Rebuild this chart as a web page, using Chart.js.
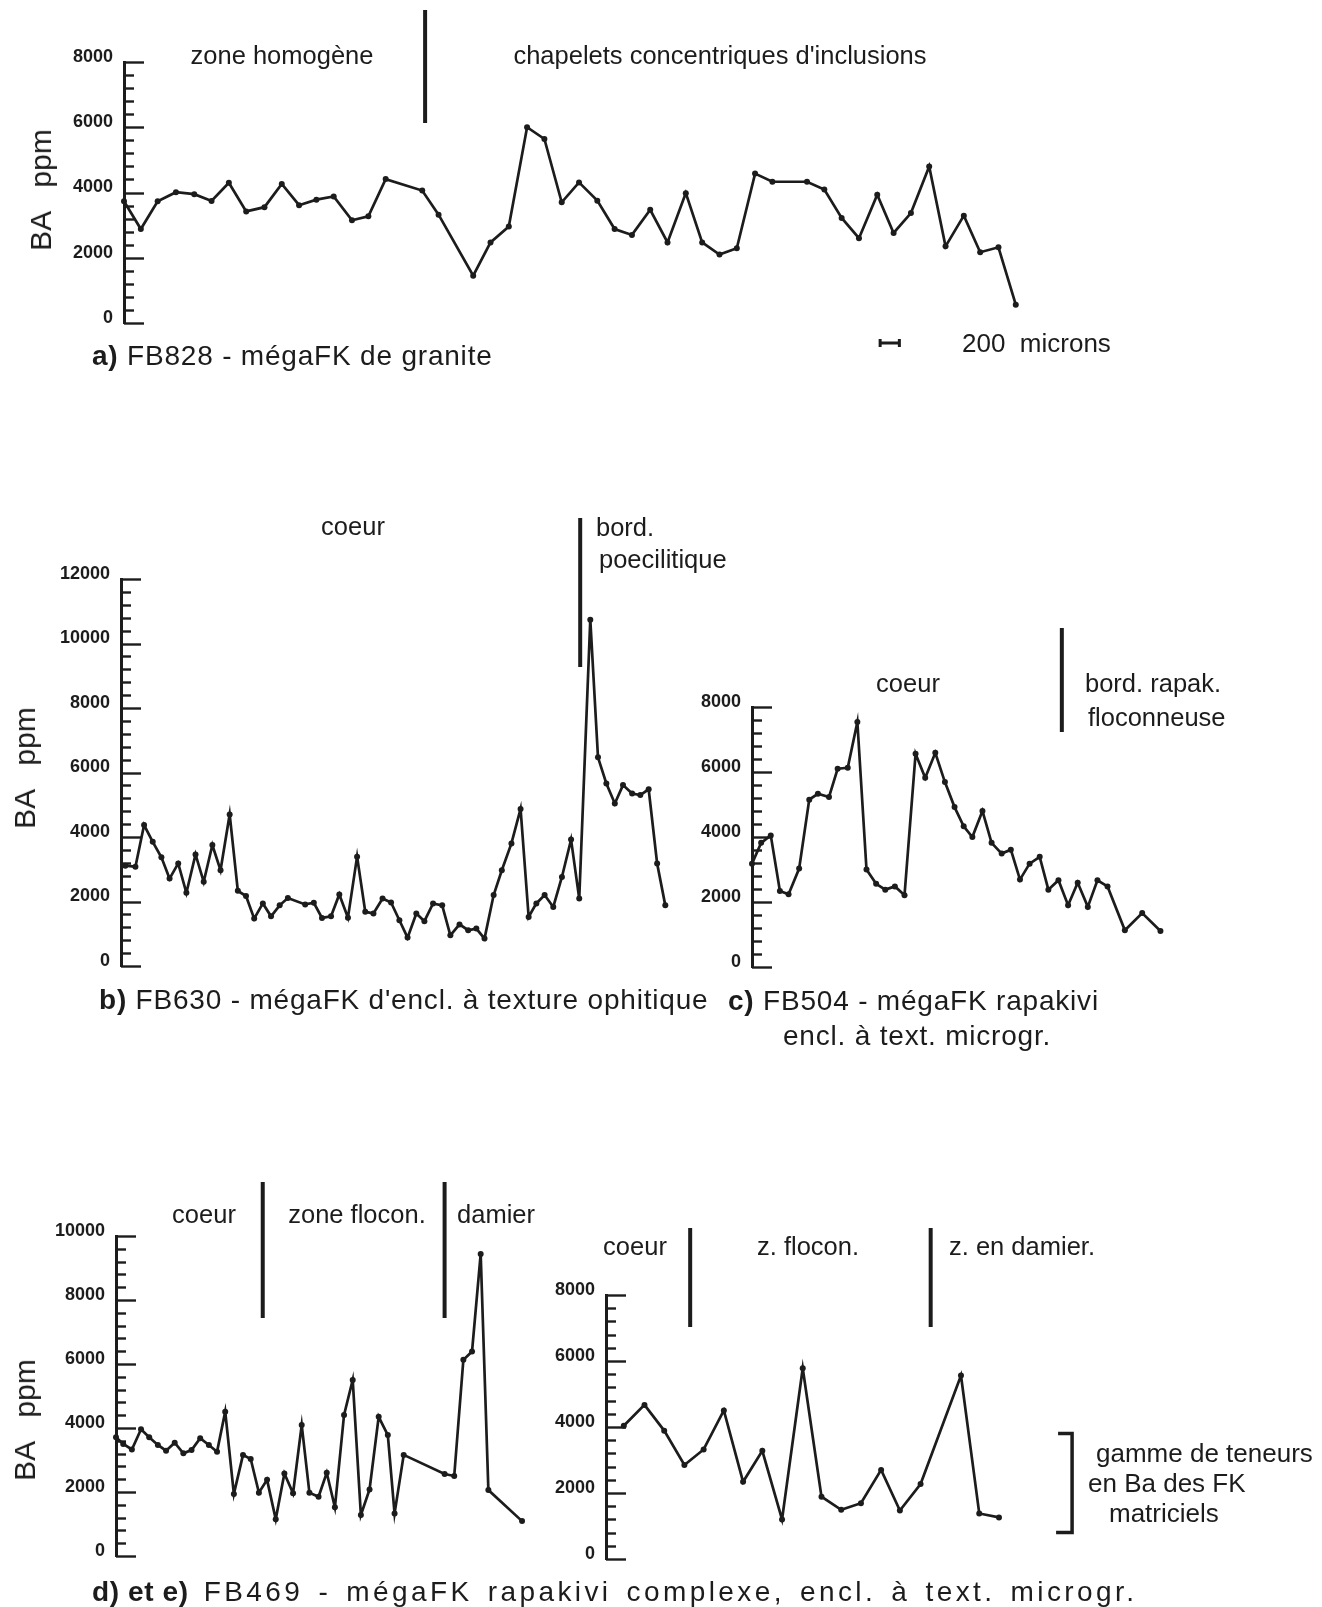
<!DOCTYPE html>
<html lang="fr">
<head>
<meta charset="utf-8">
<title>Profils de Ba dans les mégacristaux de FK</title>
<script src="https://cdn.jsdelivr.net/npm/chart.js@4.4.1/dist/chart.umd.min.js"></script>
<style>
  html, body { margin: 0; padding: 0; background: #fff; }
  #page { position: relative; width: 1322px; height: 1607px; overflow: hidden;
          font-family: "Liberation Sans", Arial, Helvetica, sans-serif; color: #1c1c1c; }
  #page canvas { position: absolute; left: 0; top: 0; }
  .t { position: absolute; white-space: pre; font-size: 25.5px; line-height: 1; transform: translateY(-50%); }
  .c { transform: translate(-50%, -50%); }
  .cap { font-size: 28px; letter-spacing: 0.8px; }
  .wide { letter-spacing: 3.4px; word-spacing: 4px; }
  .wide b { letter-spacing: 0.6px; word-spacing: 0; }
  .ylab { position: absolute; white-space: pre; font-size: 30px; line-height: 1;
          transform: translate(-50%, -50%) rotate(-90deg); }
</style>
</head>
<body>
<div id="page">
  <canvas id="chA" width="1322" height="1607"></canvas>
  <canvas id="chB" width="1322" height="1607"></canvas>
  <canvas id="chC" width="1322" height="1607"></canvas>
  <canvas id="chD" width="1322" height="1607"></canvas>
  <canvas id="chE" width="1322" height="1607"></canvas>

  <!-- a) -->
  <div class="ylab" style="left:41px; top:190px;">BA   ppm</div>
  <div class="t c" style="left:282px; top:56px;">zone homogène</div>
  <div class="t c" style="left:720px; top:56px;">chapelets concentriques d'inclusions</div>
  <div class="t" style="left:962px; top:343px; font-size:26px;">200  microns</div>
  <div class="t cap" style="left:92px; top:356px;"><b>a)</b> FB828 - mégaFK de granite</div>

  <!-- b) -->
  <div class="ylab" style="left:25px; top:768px;">BA   ppm</div>
  <div class="t c" style="left:353px; top:527px;">coeur</div>
  <div class="t" style="left:596px; top:528px;">bord.</div>
  <div class="t" style="left:599px; top:560px;">poecilitique</div>
  <div class="t cap" style="left:99px; top:1000px;"><b>b)</b> FB630 - mégaFK d'encl. à texture ophitique</div>

  <!-- c) -->
  <div class="t c" style="left:908px; top:684px;">coeur</div>
  <div class="t" style="left:1085px; top:684px;">bord. rapak.</div>
  <div class="t" style="left:1088px; top:718px;">floconneuse</div>
  <div class="t cap" style="left:728px; top:1001px;"><b>c)</b> FB504 - mégaFK rapakivi</div>
  <div class="t cap" style="left:783px; top:1036px;">encl. à text. microgr.</div>

  <!-- d) et e) -->
  <div class="ylab" style="left:25px; top:1420px;">BA   ppm</div>
  <div class="t c" style="left:204px; top:1215px;">coeur</div>
  <div class="t c" style="left:357px; top:1215px;">zone flocon.</div>
  <div class="t c" style="left:496px; top:1215px;">damier</div>
  <div class="t c" style="left:635px; top:1247px;">coeur</div>
  <div class="t c" style="left:808px; top:1247px;">z. flocon.</div>
  <div class="t c" style="left:1022px; top:1247px;">z. en damier.</div>
  <div class="t" style="left:1096px; top:1453px; font-size:26px;">gamme de teneurs</div>
  <div class="t" style="left:1088px; top:1483px; font-size:26px;">en Ba des FK</div>
  <div class="t" style="left:1109px; top:1513px; font-size:26px;">matriciels</div>
  <div class="t cap wide" style="left:92px; top:1592px;"><b>d) et e)</b> FB469 - mégaFK rapakivi complexe, encl. à text. microgr.</div>
</div>

<script>
// Ba profiles (ppm) along each megacrystal traverse; distances in µm from the first analysis.

// a) FB828 - mégaFK de granite
const distA = [0, 175, 350, 540, 730, 910, 1090, 1270, 1460, 1640, 1820, 2000, 2180, 2370, 2540, 2720,
               3100, 3270, 3630, 3810, 4000, 4190, 4370, 4550, 4730, 4920, 5100, 5280, 5470, 5650, 5840,
               6010, 6190, 6370, 6560, 6740, 7100, 7280, 7460, 7640, 7830, 8000, 8180, 8370, 8540, 8730,
               8900, 9090, 9270];
const baA   = [3730, 2880, 3730, 4010, 3950, 3740, 4300, 3420, 3550, 4260, 3610, 3780, 3880, 3150, 3270, 4410,
               4060, 3320, 1450, 2470, 2960, 6000, 5640, 3700, 4310, 3750, 2880, 2700, 3470, 2470, 3980,
               2470, 2100, 2290, 4580, 4330, 4330, 4090, 3220, 2600, 3930, 2760, 3370, 4800, 2350, 3290,
               2170, 2320, 560];
const zonesA = [3130];          // zone homogène | chapelets concentriques d'inclusions
const scaleBarMicrons = 200;

// b) FB630 - mégaFK d'encl. à texture ophitique
const distB = [45, 150, 240, 330, 420, 505, 595, 680, 775, 860, 950, 1035, 1130, 1215, 1300, 1385, 1475,
               1560, 1650, 1735, 1915, 2005, 2090, 2184, 2270, 2360, 2455, 2540, 2625, 2720, 2808, 2895,
               2980, 3071, 3155, 3245, 3340, 3425, 3520, 3610, 3695, 3780, 3875, 3960, 4060, 4155, 4239,
               4319, 4405, 4495, 4585, 4680, 4765, 4880, 4960, 5047, 5135, 5220, 5315, 5400, 5487, 5575,
               5660];
const baB   = [3110, 3080, 4370, 3850, 3370, 2710, 3180, 2270, 3460, 2610, 3750, 2970, 4700, 2330, 2170,
               1470, 1940, 1540, 1880, 2110, 1910, 1960, 1490, 1540, 2220, 1500, 3390, 1680, 1630, 2090,
               1970, 1420, 880, 1630, 1390, 1940, 1880, 950, 1290, 1110, 1160, 850, 2200, 2970, 3800,
               4870, 1520, 1940, 2200, 1830, 2760, 3920, 2090, 10740, 6470, 5660, 5040, 5610, 5350, 5300,
               5480, 3180, 1880];
const zonesB = [4775];          // coeur | bord. poecilitique

// c) FB504 - mégaFK rapakivi, encl. à text. microgr.
const distC = [0, 95, 195, 290, 380, 490, 595, 685, 800, 890, 995, 1095, 1190, 1290, 1385, 1485, 1585,
               1700, 1800, 1905, 2005, 2105, 2200, 2290, 2395, 2490, 2595, 2690, 2785, 2885, 2990, 3080,
               3185, 3285, 3385, 3490, 3590, 3695, 3875, 4055, 4245];
const baC   = [3180, 3820, 4050, 2340, 2240, 3030, 5150, 5330, 5230, 6100, 6130, 7540, 3000, 2560, 2380,
               2480, 2210, 6560, 5820, 6590, 5690, 4920, 4330, 4000, 4800, 3820, 3490, 3610, 2690, 3180,
               3390, 2380, 2670, 1900, 2590, 1850, 2670, 2480, 1130, 1660, 1110];
const zonesC = [3220];          // coeur | bord. rapak. floconneuse

// d) FB469 - first traverse
const distD = [0, 75, 165, 260, 345, 435, 520, 610, 700, 785, 875, 965, 1050, 1135, 1225, 1320, 1400,
               1485, 1570, 1660, 1750, 1840, 1930, 2010, 2105, 2190, 2275, 2370, 2460, 2545, 2635, 2730,
               2825, 2895, 2990, 3415, 3515, 3610, 3700, 3790, 3870, 4220];
const baD   = [3710, 3500, 3330, 3960, 3710, 3470, 3290, 3540, 3210, 3310, 3680, 3470, 3260, 4510, 1940,
               3160, 3030, 1980, 2380, 1150, 2580, 1960, 4090, 1980, 1850, 2600, 1520, 4410, 5500, 1280,
               2080, 4350, 3780, 1330, 3160, 2560, 2500, 6130, 6390, 9440, 2060, 1090];
const zonesD = [1525, 3415];    // coeur | zone flocon. | damier

// e) FB469 - second traverse
const distE = [185, 400, 605, 815, 1015, 1225, 1425, 1625, 1830, 2045, 2240, 2445, 2650, 2860, 3055,
               3270, 3690, 3880, 4085];
const baE   = [4040, 4670, 3890, 2850, 3320, 4500, 2340, 3280, 1200, 5780, 1890, 1490, 1690, 2700, 1470,
               2270, 5560, 1380, 1260];
const zonesE = [875, 3375];     // coeur | z. flocon. | z. en damier.
const matrixFKRange = [800, 3800];   // gamme de teneurs en Ba des FK matriciels

const INK = '#1c1c1c';
const FONT = '"Liberation Sans", Arial, Helvetica, sans-serif';

// Axis ticks pointing into the plot, zone boundaries, scale bar and bracket.
const profileDecor = {
  id: 'profileDecor',
  beforeDatasetsDraw(chart) {
    const { ctx, chartArea } = chart;
    const y = chart.scales.y;
    ctx.save();
    ctx.strokeStyle = INK;
    ctx.lineWidth = 2.4;
    y.ticks.forEach(t => {
      const py = Math.round(y.getPixelForValue(t.value)) + 0.5;
      const len = t.value % 2000 === 0 ? 20 : 10;
      ctx.beginPath();
      ctx.moveTo(chartArea.left, py);
      ctx.lineTo(chartArea.left + len, py);
      ctx.stroke();
    });
    ctx.restore();
  },
  afterDatasetsDraw(chart, args, opts) {
    const { ctx } = chart;
    const x = chart.scales.x, y = chart.scales.y;
    ctx.save();
    ctx.strokeStyle = INK;
    ctx.lineCap = 'butt';
    ctx.lineWidth = 4;
    (opts.zones || []).forEach(v => {
      const px = x.getPixelForValue(v);
      ctx.beginPath();
      ctx.moveTo(px, opts.barTop);
      ctx.lineTo(px, opts.barBottom);
      ctx.stroke();
    });
    if (opts.scaleBar) {
      const x0 = x.getPixelForValue(opts.scaleBar.from);
      const x1 = x.getPixelForValue(opts.scaleBar.from + opts.scaleBar.length);
      const yy = opts.scaleBar.y;
      ctx.lineWidth = 3;
      ctx.beginPath();
      ctx.moveTo(x0, yy); ctx.lineTo(x1, yy);
      ctx.moveTo(x0, yy - 4); ctx.lineTo(x0, yy + 4);
      ctx.moveTo(x1, yy - 4); ctx.lineTo(x1, yy + 4);
      ctx.stroke();
    }
    if (opts.bracket) {
      const bx = x.getPixelForValue(opts.bracket.at);
      const yTop = y.getPixelForValue(opts.bracket.range[1]);
      const yBot = y.getPixelForValue(opts.bracket.range[0]);
      ctx.lineWidth = 3.5;
      ctx.lineJoin = 'miter';
      ctx.beginPath();
      ctx.moveTo(bx - 14, yTop);
      ctx.lineTo(bx, yTop);
      ctx.lineTo(bx, yBot);
      ctx.lineTo(bx - 16, yBot);
      ctx.stroke();
    }
    ctx.restore();
  }
};

function makeProfile(id, dist, ba, cfg) {
  const points = dist.map((d, i) => ({ x: d, y: ba[i] }));
  return new Chart(document.getElementById(id), {
    type: 'line',
    data: {
      datasets: [{
        data: points,
        borderColor: INK,
        backgroundColor: INK,
        borderWidth: 2.7,
        pointRadius: 3,
        pointBorderWidth: 0,
        pointBackgroundColor: INK,
        tension: 0,
        clip: false
      }]
    },
    options: {
      responsive: false,
      animation: false,
      events: [],
      layout: { padding: cfg.padding },
      plugins: {
        legend: { display: false },
        tooltip: { enabled: false },
        profileDecor: cfg.decor
      },
      scales: {
        x: { type: 'linear', display: false, min: 0, max: cfg.xMax },
        y: {
          type: 'linear',
          min: 0,
          max: cfg.yMax,
          afterFit(s) { s.width = cfg.axisWidth; },
          afterBuildTicks(s) {
            const t = [];
            for (let v = s.min; v <= s.max; v += 400) t.push({ value: v });
            s.ticks = t;
          },
          ticks: {
            autoSkip: false,
            padding: 11,
            labelOffset: -5,
            color: INK,
            font: { family: FONT, size: 18, weight: 'bold' },
            callback: v => (v % 2000 === 0 ? String(v) : '')
          },
          grid: { display: false, drawTicks: false },
          border: { display: true, color: INK, width: 3 }
        }
      }
    },
    plugins: [profileDecor]
  });
}

makeProfile('chA', distA, baA, {
  padding: { left: 23, top: 62, right: 236, bottom: 1284 },
  axisWidth: 101, xMax: 10000, yMax: 8000,
  decor: { zones: zonesA, barTop: 10, barBottom: 123,
           scaleBar: { from: 7860, length: scaleBarMicrons, y: 343 } }
});

makeProfile('chB', distB, baB, {
  padding: { left: 7, top: 579, right: 624, bottom: 641 },
  axisWidth: 114, xMax: 6000, yMax: 12000,
  decor: { zones: zonesB, barTop: 518, barBottom: 667 }
});

makeProfile('chC', distC, baC, {
  padding: { left: 692, top: 707, right: 137, bottom: 640 },
  axisWidth: 60, xMax: 4500, yMax: 8000,
  decor: { zones: zonesC, barTop: 628, barBottom: 732 }
});

makeProfile('chD', distD, baD, {
  padding: { left: 4, top: 1236, right: 773, bottom: 51 },
  axisWidth: 112, xMax: 4500, yMax: 10000,
  decor: { zones: zonesD, barTop: 1182, barBottom: 1318 }
});

makeProfile('chE', distE, baE, {
  padding: { left: 546, top: 1295, right: 235, bottom: 48 },
  axisWidth: 60, xMax: 5000, yMax: 8000,
  decor: { zones: zonesE, barTop: 1228, barBottom: 1327,
           bracket: { at: 4845, range: matrixFKRange } }
});
</script>
</body>
</html>
